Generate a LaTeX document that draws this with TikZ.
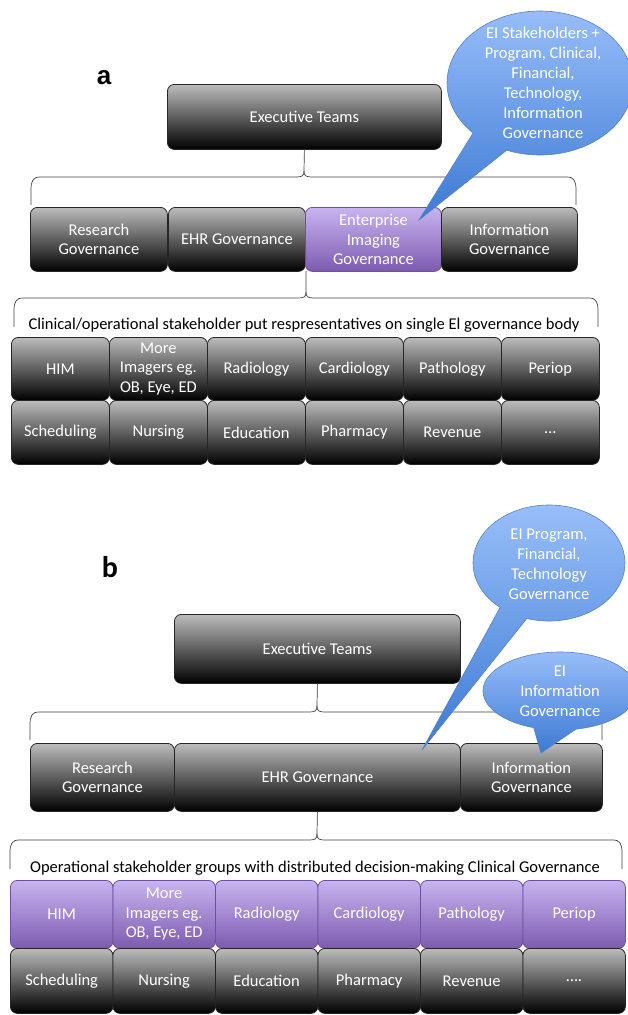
\documentclass[tikz,border=0pt]{standalone}
\usepackage{fontspec}
\setmainfont{Carlito}
\newfontfamily\arialf{Liberation Sans}
\definecolor{gtop}{RGB}{188,188,188}
\definecolor{ptop}{RGB}{200,180,240}
\definecolor{pbot}{RGB}{125,90,175}
\definecolor{pbord}{RGB}{110,80,160}
\definecolor{btop}{RGB}{155,192,250}
\definecolor{bbot}{RGB}{60,122,212}
\definecolor{bbord}{RGB}{85,130,200}
\begin{document}
\begin{tikzpicture}[x=1pt,y=1pt,
 boxbase/.style={rounded corners=7pt, text=white, align=center, inner sep=1pt, font=\fontsize{16.5}{19.5}\selectfont, anchor=north west, line width=0.8pt},
 graybox/.style={boxbase, draw=black!85, top color=gtop, bottom color=black},
 purpbox/.style={boxbase, draw=pbord, top color=ptop, bottom color=pbot},
 bubble/.style={draw=bbord, line width=0.6pt, top color=btop, bottom color=bbot},
 btext/.style={text=white, align=center, font=\fontsize{16.5}{20}\selectfont},
 brace/.style={draw=black!75, line width=0.7pt},
 lbl/.style={font=\fontsize{16.5}{19}\selectfont}]
\useasboundingbox (0,0) rectangle (628,-1015);
\clip (0,0) rectangle (628,-1015);

% ---------------- Panel a ----------------
\node[font=\arialf\bfseries\fontsize{26}{26}\selectfont] (la) at (104,-78) {a};
\node[graybox, minimum width=274pt, minimum height=65pt] (execa) at (167,-84) {Executive Teams};

\node[graybox, minimum width=137pt, minimum height=64pt] (resa) at (30,-207) {Research\\Governance};
\node[graybox, minimum width=137pt, minimum height=64pt] (ehra) at (168,-207) {EHR Governance};
\node[purpbox, minimum width=136pt, minimum height=64pt] (eia) at (305,-207) {Enterprise\\Imaging\\Governance};
\node[graybox, minimum width=136pt, minimum height=64pt] (infa) at (441,-207) {Information\\Governance};

\draw[brace] (execa.south) -- (304,-171) .. controls (304,-176) and (302,-177) .. (296,-177) -- (40,-177) .. controls (33,-177) and (31,-181) .. (31,-190) -- (31,-205);
\draw[brace] (304,-171) .. controls (304,-176) and (306,-177) .. (312,-177) -- (567,-177) .. controls (574,-177) and (576,-181) .. (576,-190) -- (576,-205);

\coordinate (rowa) at (306,-271);
\draw[brace] (rowa) -- (306,-292) .. controls (306,-297) and (304,-298) .. (298,-298) -- (23,-298) .. controls (16,-298) and (14,-302) .. (14,-311) -- (14,-327);
\draw[brace] (306,-292) .. controls (306,-297) and (308,-298) .. (314,-298) -- (589,-298) .. controls (596,-298) and (598,-302) .. (598,-311) -- (598,-327);
\node[lbl] (capa) at (304,-325) {Clinical/operational stakeholder put respresentatives on single El governance body};

\foreach \t [count=\i] in {HIM,{More\\Imagers eg.\\OB, Eye, ED},Radiology,Cardiology,Pathology,Periop}
  \node[graybox, minimum width=98pt, minimum height=63pt] (ga\i) at ({11+(\i-1)*98},-337) {\t};
\foreach \t [count=\i] in {Scheduling,Nursing,Education,Pharmacy,Revenue,\dots}
  \node[graybox, minimum width=98pt, minimum height=64pt] (gb\i) at ({11+(\i-1)*98},-400) {\t};

\shade[bubble] (540,-83) ++(249:93pt and 72pt) arc[start angle=249, end angle=584, x radius=93pt, y radius=72pt] -- (419,-220) -- cycle;
\node[btext] (bta) at (543,-83) {EI Stakeholders +\\Program, Clinical,\\Financial,\\Technology,\\Information\\Governance};

% ---------------- Panel b ----------------
\node[font=\bfseries\fontsize{30}{30}\selectfont] (lb) at (110,-567) {b};
\node[graybox, minimum width=286pt, minimum height=69pt] (execb) at (174,-614) {Executive Teams};

\node[graybox, minimum width=144pt, minimum height=68pt] (resb) at (30,-743) {Research\\Governance};
\node[graybox, minimum width=286pt, minimum height=68pt] (ehrb) at (174,-743) {EHR Governance};
\node[graybox, minimum width=142pt, minimum height=68pt] (infb) at (460,-743) {Information\\Governance};

\draw[brace] (execb.south) -- (317,-706) .. controls (317,-711) and (315,-712) .. (309,-712) -- (39,-712) .. controls (32,-712) and (30,-716) .. (30,-725) -- (30,-740);
\draw[brace] (317,-706) .. controls (317,-711) and (319,-712) .. (325,-712) -- (593,-712) .. controls (600,-712) and (602,-716) .. (602,-725) -- (602,-740);

\draw[brace] (ehrb.south) -- (317,-834) .. controls (317,-839) and (315,-840) .. (309,-840) -- (19,-840) .. controls (12,-840) and (10,-844) .. (10,-853) -- (10,-869);
\draw[brace] (317,-834) .. controls (317,-839) and (319,-840) .. (325,-840) -- (613,-840) .. controls (620,-840) and (622,-844) .. (622,-853) -- (622,-869);
\node[lbl] (capb) at (315,-868) {Operational stakeholder groups with distributed decision-making Clinical Governance};

\foreach \t [count=\i] in {HIM,{More\\Imagers eg.\\OB, Eye, ED},Radiology,Cardiology,Pathology,Periop}
  \node[purpbox, minimum width=102.5pt, minimum height=68pt] (pa\i) at ({10+(\i-1)*102.5},-880) {\t};
\foreach \t [count=\i] in {Scheduling,Nursing,Education,Pharmacy,Revenue,\dots.}
  \node[graybox, minimum width=102.5pt, minimum height=65pt] (pb\i) at ({10+(\i-1)*102.5},-948) {\t};

\shade[bubble] (549,-563) ++(253:76pt and 58pt) arc[start angle=253, end angle=590, x radius=76pt, y radius=58pt] -- (422,-750) -- cycle;
\node[btext] (btb) at (549,-564) {EI Program,\\Financial,\\Technology\\Governance};

\shade[bubble] (560,-691) ++(282:77pt and 39pt) arc[start angle=282, end angle=610, x radius=77pt, y radius=39pt] -- (541,-753) -- cycle;
\node[btext] (btc) at (560,-691) {EI\\Information\\Governance};
\end{tikzpicture}
\end{document}
